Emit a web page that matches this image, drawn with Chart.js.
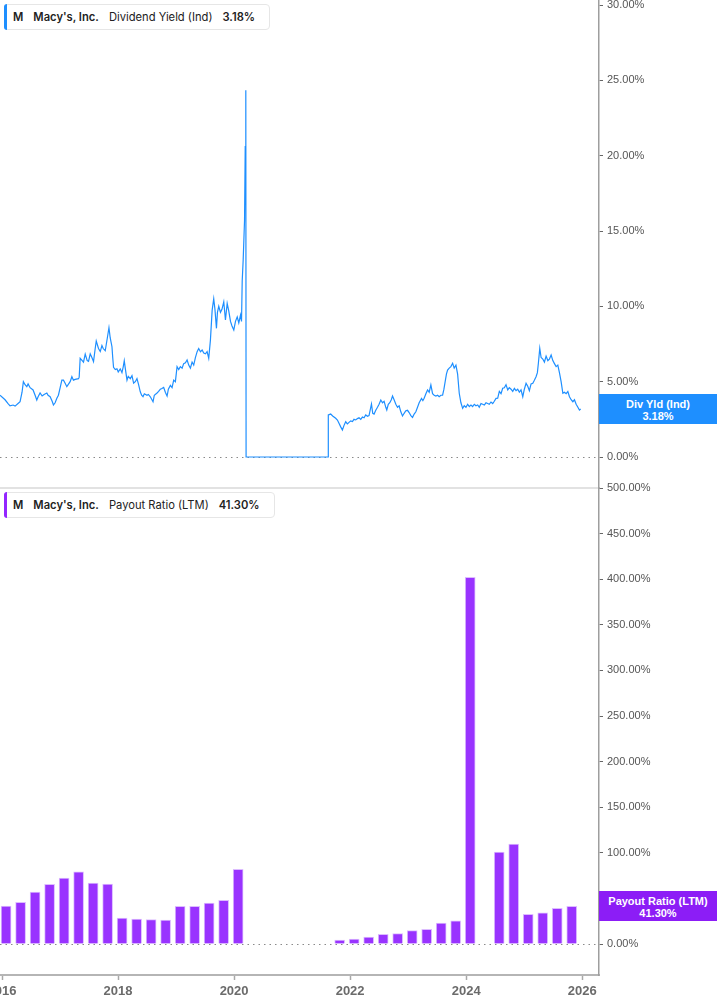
<!DOCTYPE html>
<html>
<head>
<meta charset="utf-8">
<title>Macy's, Inc. - Dividend Yield and Payout Ratio</title>
<script src="https://cdn.jsdelivr.net/npm/chart.js@4.4.1/dist/chart.umd.min.js"></script>
<style>
  body { margin: 0; background: #fff; }
  #wrap { position: relative; width: 717px; height: 1005px; overflow: hidden; font-family: Inter, 'Noto Sans', sans-serif; }
  canvas { position: absolute; left: 0; }
  #yieldChart { top: 0; }
  #payoutChart { top: 478px; }
  .legend { position: absolute; left: 4px; height: 24px; border: 1px solid #e6e6e6; border-radius: 4px; background: #fff;
            font-size: 11.2px; color: #222; line-height: 24px; padding: 0 4px 0 8px; white-space: nowrap; z-index: 2; }
  .legend::before { content: ''; position: absolute; left: -1px; top: -1px; bottom: -1px; width: 3px; border-radius: 3px 0 0 3px; background: var(--c); }
  .legend span { margin-right: 10px; }
  .legend b { font-weight: 600; margin-right: 10px; }
  .tag { position: absolute; left: 599px; width: 118px; height: 30px; color: #fff; text-align: center; line-height: 11px;
         padding-top: 4px; box-sizing: border-box; font: bold 11px 'Liberation Sans', Arial, sans-serif; z-index: 2; }
</style>
</head>
<body>
<div id="wrap">
  <canvas id="yieldChart" width="717" height="490"></canvas>
  <canvas id="payoutChart" width="717" height="527"></canvas>

  <div class="legend" style="top:4px; --c:#1e8fff;"><b>M</b><b>Macy's, Inc.</b><span>Dividend Yield (Ind)</span><b>3.18%</b></div>
  <div class="legend" style="top:492px; --c:#9326ff;"><b>M</b><b>Macy's, Inc.</b><span>Payout Ratio (LTM)</span><b>41.30%</b></div>

  <div class="tag" id="yieldTag" style="background:#1e8fff;">Div Yld (Ind)<br>3.18%</div>
  <div class="tag" id="payoutTag" style="background:#8c1df6;">Payout Ratio (LTM)<br>41.30%</div>
</div>

<script>
// valeurs (annees en decimal)
const yieldDates = [
  2015.965, 2016.052, 2016.104, 2016.138, 2016.190, 2016.225, 2016.276, 2016.311, 2016.345, 2016.368,
  2016.397, 2016.427, 2016.449, 2016.484, 2016.535, 2016.570, 2016.599, 2016.622, 2016.656, 2016.691,
  2016.725, 2016.772, 2016.794, 2016.829, 2016.864, 2016.886, 2016.915, 2016.945, 2016.972, 2017.002,
  2017.031, 2017.059, 2017.088, 2017.117, 2017.140, 2017.174, 2017.204, 2017.231, 2017.261, 2017.318,
  2017.330, 2017.347, 2017.382, 2017.404, 2017.434, 2017.468, 2017.491, 2017.520, 2017.549, 2017.577,
  2017.606, 2017.624, 2017.663, 2017.693, 2017.722, 2017.744, 2017.779, 2017.819, 2017.843, 2017.865,
  2017.895, 2017.908, 2017.922, 2017.952, 2017.981, 2018.003, 2018.038, 2018.067, 2018.090, 2018.107,
  2018.124, 2018.154, 2018.176, 2018.211, 2018.240, 2018.268, 2018.297, 2018.326, 2018.354, 2018.383,
  2018.406, 2018.430, 2018.453, 2018.499, 2018.522, 2018.556, 2018.603, 2018.625, 2018.672, 2018.699,
  2018.729, 2018.755, 2018.786, 2018.815, 2018.845, 2018.867, 2018.902, 2018.931, 2018.959, 2018.988,
  2019.017, 2019.045, 2019.074, 2019.104, 2019.131, 2019.161, 2019.190, 2019.218, 2019.247, 2019.276,
  2019.304, 2019.333, 2019.363, 2019.390, 2019.420, 2019.449, 2019.477, 2019.506, 2019.535, 2019.563,
  2019.592, 2019.622, 2019.649, 2019.670, 2019.696, 2019.713, 2019.736, 2019.765, 2019.791, 2019.822,
  2019.851, 2019.881, 2019.908, 2019.938, 2019.964, 2019.995, 2020.024, 2020.054, 2020.081, 2020.111,
  2020.128, 2020.140, 2020.157, 2020.180, 2020.192, 2020.202, 2020.207, 2021.622, 2021.624, 2021.665,
  2021.699, 2021.751, 2021.781, 2021.808, 2021.838, 2021.867, 2021.895, 2021.924, 2021.953, 2021.981,
  2022.010, 2022.040, 2022.067, 2022.097, 2022.126, 2022.154, 2022.183, 2022.212, 2022.240, 2022.269,
  2022.299, 2022.326, 2022.368, 2022.390, 2022.413, 2022.442, 2022.472, 2022.499, 2022.529, 2022.558,
  2022.586, 2022.615, 2022.632, 2022.658, 2022.684, 2022.710, 2022.731, 2022.758, 2022.788, 2022.817,
  2022.845, 2022.874, 2022.903, 2022.931, 2022.960, 2022.990, 2023.017, 2023.047, 2023.076, 2023.104,
  2023.133, 2023.162, 2023.190, 2023.231, 2023.254, 2023.276, 2023.306, 2023.335, 2023.363, 2023.392,
  2023.421, 2023.449, 2023.478, 2023.508, 2023.535, 2023.565, 2023.594, 2023.617, 2023.634, 2023.660,
  2023.680, 2023.708, 2023.737, 2023.767, 2023.794, 2023.824, 2023.853, 2023.881, 2023.910, 2023.940,
  2023.967, 2023.997, 2024.026, 2024.054, 2024.083, 2024.112, 2024.140, 2024.169, 2024.199, 2024.226,
  2024.256, 2024.285, 2024.313, 2024.342, 2024.371, 2024.399, 2024.428, 2024.458, 2024.485, 2024.515,
  2024.544, 2024.572, 2024.601, 2024.630, 2024.658, 2024.687, 2024.717, 2024.744, 2024.774, 2024.803,
  2024.831, 2024.860, 2024.889, 2024.917, 2024.946, 2024.976, 2025.003, 2025.033, 2025.062, 2025.090,
  2025.119, 2025.149, 2025.176, 2025.205, 2025.228, 2025.245, 2025.269, 2025.292, 2025.321, 2025.349,
  2025.378, 2025.408, 2025.435, 2025.465, 2025.494, 2025.522, 2025.551, 2025.580, 2025.608, 2025.637,
  2025.667, 2025.694, 2025.724, 2025.753, 2025.781, 2025.810, 2025.839, 2025.867, 2025.896, 2025.926,
  2025.953, 2025.974
];
const yieldValues = [
  4.10, 3.80, 3.55, 3.40, 3.45, 3.38, 3.55, 3.67, 4.30, 5.00,
  4.80, 4.67, 4.85, 4.60, 4.45, 4.10, 3.78, 4.00, 4.25, 4.05,
  4.15, 4.25, 4.10, 4.00, 3.70, 3.45, 3.60, 3.90, 4.10, 4.60,
  5.10, 5.10, 4.90, 4.67, 4.80, 5.00, 5.33, 5.10, 5.15, 5.20,
  5.30, 6.55, 6.40, 6.30, 6.83, 6.40, 6.35, 6.85, 6.60, 6.33,
  7.20, 7.70, 7.20, 7.00, 7.40, 7.20, 7.05, 8.00, 8.58, 7.90,
  7.32, 6.60, 5.95, 5.80, 5.85, 5.65, 5.85, 5.60, 6.00, 6.39,
  5.90, 5.10, 5.35, 5.20, 5.40, 4.90, 5.00, 5.20, 4.80, 4.33,
  4.10, 4.00, 4.20, 4.10, 4.15, 4.00, 3.67, 4.10, 4.25, 4.35,
  4.50, 4.55, 4.62, 4.30, 4.05, 4.50, 4.75, 4.60, 5.10, 5.00,
  6.00, 5.80, 6.00, 5.90, 6.20, 6.25, 6.44, 6.10, 5.90, 6.30,
  6.10, 6.60, 6.99, 7.20, 6.99, 7.10, 6.90, 6.85, 7.00, 6.55,
  7.76, 9.75, 10.50, 9.80, 8.54, 9.60, 10.00, 9.60, 9.80, 10.30,
  9.09, 10.20, 9.70, 9.00, 8.70, 8.43, 9.00, 9.30, 8.90, 9.42,
  9.00, 11.70, 13.10, 15.70, 20.60, 24.35, 0.00, 0.00, 2.79, 2.85,
  2.72, 2.57, 2.45, 2.24, 2.00, 1.79, 2.10, 2.34, 2.20, 2.30,
  2.40, 2.35, 2.50, 2.46, 2.55, 2.60, 2.50, 2.65, 2.60, 2.79,
  2.70, 2.75, 3.52, 2.90, 2.85, 3.10, 3.30, 3.50, 3.78, 3.60,
  3.70, 3.30, 3.12, 3.50, 3.60, 3.80, 4.05, 3.80, 3.50, 3.30,
  3.40, 3.00, 2.72, 2.90, 3.07, 3.10, 2.95, 2.75, 2.63, 2.85,
  3.00, 3.30, 3.60, 3.89, 3.75, 3.90, 4.20, 4.45, 4.30, 4.78,
  4.20, 4.10, 4.05, 4.10, 4.00, 4.10, 4.11, 4.50, 4.90, 5.50,
  5.77, 5.90, 6.00, 6.22, 5.90, 6.10, 5.50, 4.23, 3.60, 3.23,
  3.40, 3.30, 3.50, 3.35, 3.45, 3.35, 3.50, 3.40, 3.45, 3.30,
  3.55, 3.50, 3.45, 3.60, 3.55, 3.50, 3.65, 3.55, 3.70, 3.89,
  3.90, 4.35, 4.20, 4.56, 4.60, 4.80, 4.45, 4.60, 4.50, 4.35,
  4.55, 4.40, 4.50, 4.30, 4.45, 4.00, 4.50, 4.89, 4.70, 4.40,
  4.85, 4.90, 5.10, 5.33, 5.60, 6.22, 7.21, 6.60, 6.50, 6.30,
  6.70, 6.40, 6.50, 6.77, 6.40, 6.20, 6.00, 6.10, 5.60, 5.00,
  4.23, 4.30, 4.20, 4.35, 4.00, 3.80, 3.67, 3.80, 3.50, 3.30,
  3.12, 3.18
];

// payout ratio trimestriel (LTM)
const payoutDates = [
  2016.07, 2016.32, 2016.57, 2016.82, 2017.07, 2017.32, 2017.57, 2017.82,
  2018.07, 2018.32, 2018.57, 2018.82, 2019.07, 2019.32, 2019.57, 2019.82, 2020.07,
  2021.82, 2022.07, 2022.32, 2022.57, 2022.82, 2023.07, 2023.32, 2023.57, 2023.82,
  2024.07, 2024.57, 2024.82, 2025.07, 2025.32, 2025.57, 2025.82
];
const payoutValues = [
  41.7, 45.7, 57.0, 65.5, 72.4, 79.0, 66.9, 65.8,
  28.5, 27.4, 26.7, 26.3, 41.3, 41.3, 45.0, 47.9, 81.9,
  4.4, 5.5, 7.7, 10.6, 11.3, 14.6, 16.1, 23.0, 25.5,
  402.0, 100.9, 109.6, 32.6, 34.3, 39.1, 41.3
];

const yearTicks = [2016, 2018, 2020, 2022, 2024, 2026];
const yieldTicks = [0, 5, 10, 15, 20, 25, 30];
const payoutTicks = [0, 50, 100, 150, 200, 250, 300, 350, 400, 450, 500];

const axisFont = "'Liberation Sans', Arial, sans-serif";

function xScale(showLabels) {
    return {
        type: 'linear',
        min: 2015.965,
        max: 2026.29,
        offset: false,
        afterBuildTicks: s => { s.ticks = yearTicks.map(v => ({ value: v })); },
        afterFit: s => { s.height = showLabels ? 30 : 2; s.paddingLeft = 0; s.paddingRight = 0; },
        grid: { display: showLabels, offset: false, drawOnChartArea: false, tickLength: 5, tickColor: '#a8a8a8', tickWidth: 1.5 },
        border: { color: showLabels ? '#b5b5b5' : '#e2e2e2', width: 2 },
        ticks: {
            display: showLabels, autoSkip: false, maxRotation: 0, padding: 4,
            color: '#6b6b6b', font: { family: axisFont, size: 13, weight: 'bold' },
            callback: v => String(v)
        }
    };
}

function yScale(min, max, tickVals) {
    return {
        position: 'right',
        min: min,
        max: max,
        afterBuildTicks: s => { s.ticks = tickVals.map(v => ({ value: v })); },
        afterFit: s => { s.width = 118; s.paddingTop = 0; s.paddingBottom = 0; },
        grid: {
            color: c => (c.tick && c.tick.value === 0) ? '#8a8a8a' : 'rgba(0,0,0,0)',
            lineWidth: 1, tickLength: 4, tickColor: '#666', tickWidth: 1
        },
        border: { color: '#9e9e9e', width: 1.5, dash: [1.5, 4] },
        ticks: {
            padding: 4, color: '#555', font: { family: axisFont, size: 11 },
            callback: v => v.toFixed(2) + '%'
        }
    };
}

const baseOptions = {
    responsive: false,
    animation: false,
    events: [],
    plugins: { legend: { display: false }, tooltip: { enabled: false } }
};

// graphique du haut : rendement
const yieldChart = new Chart(document.getElementById('yieldChart'), {
    type: 'line',
    data: {
        datasets: [{
            data: yieldDates.map((d, i) => ({ x: d, y: yieldValues[i] })),
            borderColor: '#1e8fff',
            borderWidth: 1.2,
            pointRadius: 0,
            tension: 0
        }]
    },
    options: Object.assign({}, baseOptions, {
        layout: { padding: 0 },
        scales: { x: xScale(false), y: yScale(-2.057, 30.332, yieldTicks) }
    })
});

// graphique du bas : payout ratio
const payoutChart = new Chart(document.getElementById('payoutChart'), {
    type: 'bar',
    data: {
        datasets: [{
            data: payoutDates.map((d, i) => ({ x: d, y: payoutValues[i] })),
            backgroundColor: '#9933ff',
            borderColor: '#dcbcff',
            borderWidth: 1,
            barThickness: 10
        }]
    },
    options: Object.assign({}, baseOptions, {
        layout: { padding: { top: 10, left: 0, right: 0, bottom: 0 } },
        scales: { x: xScale(true), y: yScale(-33.99, 500, payoutTicks) }
    })
});

// etiquettes de derniere valeur
const lastYield = yieldValues[yieldValues.length - 1];
const lastPayout = payoutValues[payoutValues.length - 1];
document.getElementById('yieldTag').style.top = (yieldChart.scales.y.getPixelForValue(lastYield) - 15) + 'px';
document.getElementById('payoutTag').style.top = (478 + payoutChart.scales.y.getPixelForValue(lastPayout) - 15) + 'px';
</script>
</body>
</html>
